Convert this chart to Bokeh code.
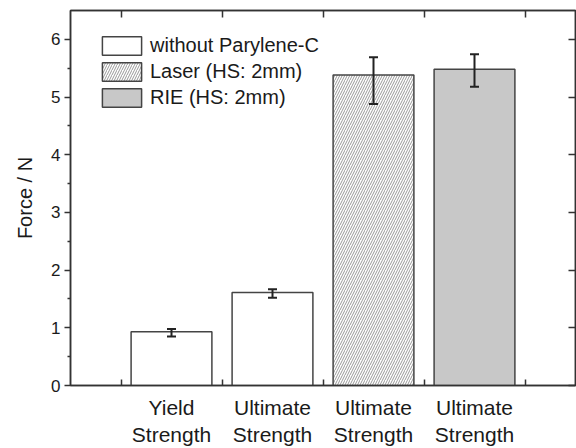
from bokeh.plotting import figure
from bokeh.models import (ColumnDataSource, FixedTicker, LinearAxis, Whisker,
                          TeeHead, Range1d)
from bokeh.embed import file_html
from bokeh.resources import INLINE

# ---- data ----
label_line1 = ["Yield", "Ultimate", "Ultimate", "Ultimate"]
label_line2 = ["Strength", "Strength", "Strength", "Strength"]
groups = ["without Parylene-C", "without Parylene-C", "Laser (HS: 2mm)", "RIE (HS: 2mm)"]
positions = [1, 2, 3, 4]
force = [0.93, 1.61, 5.38, 5.48]
err_upper = [0.98, 1.67, 5.69, 5.74]
err_lower = [0.85, 1.52, 4.88, 5.18]
y_ticks = [0, 1, 2, 3, 4, 5, 6]
group_order = ["without Parylene-C", "Laser (HS: 2mm)", "RIE (HS: 2mm)"]

FONT = "Liberation Sans"
DARK = "#333333"
TXT = "#1a1a1a"
styles = {
    "without Parylene-C": dict(fill_color="white", hatch_pattern=None),
    "Laser (HS: 2mm)": dict(fill_color="white", hatch_pattern="/"),
    "RIE (HS: 2mm)": dict(fill_color="#c8c8c8", hatch_pattern=None),
}

p = figure(width=576, height=448, x_range=Range1d(0, 5), y_range=Range1d(0, 6.5),
           output_backend="svg", toolbar_location=None,
           min_border_left=70, min_border_right=1, min_border_top=10, min_border_bottom=62)
p.xgrid.visible = False
p.ygrid.visible = False
p.outline_line_color = DARK
p.outline_line_width = 1.5
p.outline_line_alpha = 1.0

for g in group_order:
    idx = [i for i, gg in enumerate(groups) if gg == g]
    src = ColumnDataSource(dict(x=[positions[i] for i in idx], top=[force[i] for i in idx]))
    st = styles[g]
    kw = dict(x="x", top="top", width=0.8, source=src, fill_color=st["fill_color"],
              line_color="#444444", line_width=1.5, legend_label=g)
    if st["hatch_pattern"]:
        kw.update(hatch_pattern=st["hatch_pattern"], hatch_color="#999999",
                  hatch_scale=5, hatch_weight=1)
    p.vbar(**kw)

esrc = ColumnDataSource(dict(x=positions, upper=err_upper, lower=err_lower))
wh = Whisker(base="x", upper="upper", lower="lower", source=esrc, level="annotation",
             line_color="#222222", line_width=2,
             upper_head=TeeHead(size=9, line_color="#222222", line_width=2),
             lower_head=TeeHead(size=9, line_color="#222222", line_width=2))
p.add_layout(wh)

bounds = [x - 0.5 for x in positions] + [positions[-1] + 0.5]
halves = [t + 0.5 for t in y_ticks[:-1]]

# bottom axis (line 1 of labels, inward boundary ticks)
xa = p.xaxis[0]
xa.ticker = FixedTicker(ticks=positions, minor_ticks=bounds)
xa.major_label_overrides = {pos: lab for pos, lab in zip(positions, label_line1)}
xa.major_tick_in = 0
xa.major_tick_out = 0
xa.minor_tick_in = 6
xa.minor_tick_out = 0
xa.minor_tick_line_color = DARK
xa.minor_tick_line_width = 1.5
xa.axis_line_color = DARK
xa.axis_line_width = 1.5
xa.major_label_standoff = 10
xa.major_label_text_font = FONT
xa.major_label_text_font_size = "21px"
xa.major_label_text_color = TXT

xa2 = LinearAxis(ticker=FixedTicker(ticks=positions),
                 major_label_overrides={pos: lab for pos, lab in zip(positions, label_line2)},
                 axis_line_color=None, major_tick_line_color=None, minor_tick_line_color=None,
                 major_tick_in=0, major_tick_out=0, major_label_standoff=1,
                 major_label_text_font=FONT, major_label_text_font_size="21px",
                 major_label_text_color=TXT)
p.add_layout(xa2, "below")

# left axis
ya = p.yaxis[0]
ya.ticker = FixedTicker(ticks=y_ticks, minor_ticks=halves)
ya.major_tick_in = 0
ya.major_tick_out = 6
ya.minor_tick_in = 0
ya.minor_tick_out = 3
ya.major_tick_line_color = DARK
ya.minor_tick_line_color = DARK
ya.major_tick_line_width = 1.5
ya.minor_tick_line_width = 1.5
ya.axis_line_color = DARK
ya.axis_line_width = 1.5
ya.major_label_standoff = 4
ya.major_label_text_font = FONT
ya.major_label_text_font_size = "17px"
ya.major_label_text_color = TXT
ya.axis_label = "Force / N"
ya.axis_label_text_font = FONT
ya.axis_label_text_font_size = "20px"
ya.axis_label_text_font_style = "normal"
ya.axis_label_text_color = TXT
ya.axis_label_standoff = 12

# top and right axes: inward ticks, no labels
top = LinearAxis(ticker=FixedTicker(ticks=bounds), major_tick_in=7, major_tick_out=0,
                 major_tick_line_color=DARK, major_tick_line_width=1.5,
                 minor_tick_line_color=None, axis_line_color=DARK, axis_line_width=1.5,
                 major_label_overrides={b: "" for b in bounds},
                 major_label_text_font_size="1px", major_label_standoff=0)
p.add_layout(top, "above")
right = LinearAxis(ticker=FixedTicker(ticks=y_ticks), major_tick_in=7, major_tick_out=0,
                   major_tick_line_color=DARK, major_tick_line_width=1.5,
                   minor_tick_line_color=None, axis_line_color=DARK, axis_line_width=1.5,
                   major_label_overrides={t: "" for t in y_ticks},
                   major_label_text_font_size="1px", major_label_standoff=0)
p.add_layout(right, "right")

lg = p.legend[0]
lg.location = (27, 276)
lg.margin = 0
lg.padding = 0
lg.border_line_color = None
lg.background_fill_alpha = 0
lg.glyph_width = 49
lg.glyph_height = 23
lg.spacing = 3
lg.label_standoff = 4
lg.label_text_font = FONT
lg.label_text_font_size = "20px"
lg.label_text_color = TXT
lg.label_height = 23

open("out.html", "w").write(file_html(p, INLINE))
